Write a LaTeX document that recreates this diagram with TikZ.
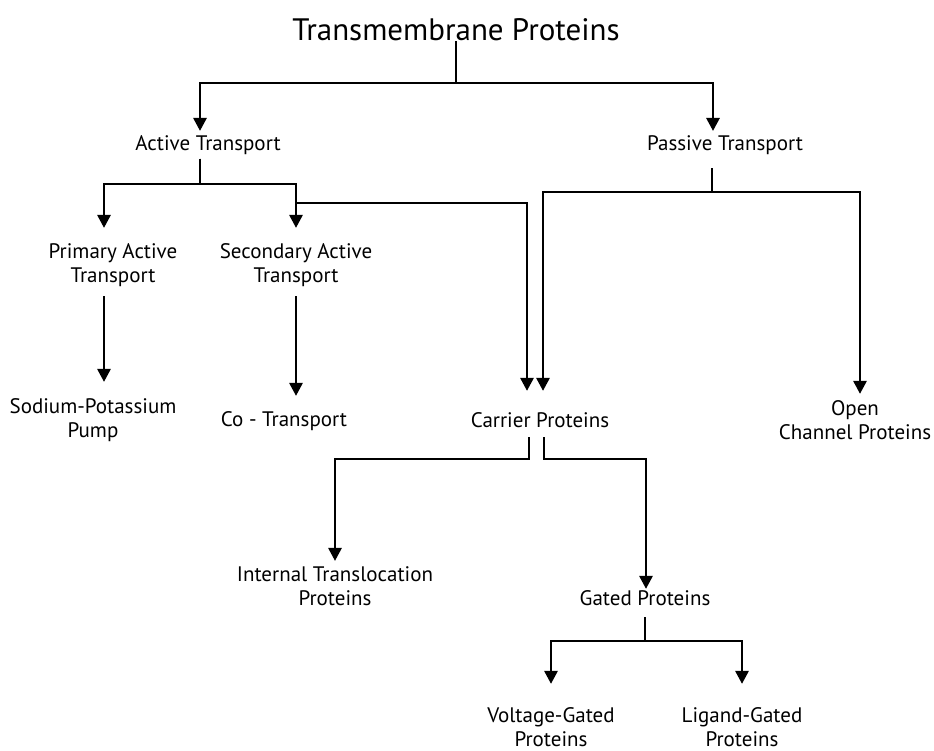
\documentclass[tikz,border=0pt]{standalone}
\usepackage{fontspec}
\setmainfont{PT Sans}
\usetikzlibrary{arrows.meta}

\tikzset{every picture/.style={line width=2.8pt}}

\begin{document}
\begin{tikzpicture}[x=1pt,y=1pt,yscale=-1,xscale=1,
  lbl/.style={inner sep=0pt, outer sep=0pt, align=center, font=\fontsize{21}{24}\selectfont},
  link/.style={-{Triangle[length=13pt,width=13pt]}, shorten <=#1},
  link/.default=0pt]
\fill[white] (0,0) rectangle (934,751);
\useasboundingbox (0,0) rectangle (934,751);

% Text Node
\node[lbl, font=\fontsize{31}{34}\selectfont] (root) at (456,30) {Transmembrane Proteins};
% Text Node
\node[lbl] (act) at (208,145) {Active Transport};
% Text Node
\node[lbl] (pas) at (725,145) {Passive Transport};
% Text Node
\node[lbl] (prim) at (113,265) {Primary Active\\Transport};
% Text Node
\node[lbl] (sec) at (296,265) {Secondary Active\\Transport};
% Text Node
\node[lbl] (sod) at (93,420) {Sodium-Potassium\\Pump};
% Text Node
\node[lbl] (co) at (284,421) {Co - Transport};
% Text Node
\node[lbl] (car) at (540,420) {Carrier Proteins};
% Text Node
\node[lbl] (open) at (855,420) {Open\\Channel Proteins};
% Text Node
\node[lbl] (int) at (335,586) {Internal Translocation\\Proteins};
% Text Node
\node[lbl] (gat) at (645,598) {Gated Proteins};
% Text Node
\node[lbl] (volt) at (551,727) {Voltage-Gated\\Proteins};
% Text Node
\node[lbl] (lig) at (742,727) {Ligand-Gated\\Proteins};

\coordinate (split) at (296,203);

%Straight Lines
\draw[link, shorten >=4.5pt] (root.south) -- (root.south |- 0,83) -| ([xshift=-8pt]act.north);
\draw[link, shorten >=4.5pt] (root.south) -- (root.south |- 0,83) -| ([xshift=-12pt]pas.north);

%Straight Lines
\draw[link=4pt, shorten >=15.5pt] ([xshift=-8pt]act.south) -- ([xshift=-8pt]act.south |- 0,184) -| ([xshift=-9pt]prim.north);
\draw[link=4pt, shorten >=15.5pt] ([xshift=-8pt]act.south) -- ([xshift=-8pt]act.south |- 0,184) -| (sec.north);
\draw[link, shorten >=21.5pt] (split) -| ([xshift=-13pt]car.north);

%Straight Lines
\draw[link=9.5pt, shorten >=16.5pt] ([xshift=-9pt]prim.south) -- ([xshift=11pt]sod.north);
\draw[link=9.5pt, shorten >=15.5pt] (sec.south) -- ([xshift=12pt]co.north);

%Straight Lines
\draw[link=13.5pt, shorten >=21.5pt] ([xshift=-13pt]pas.south) -- ([xshift=-13pt]pas.south |- 0,192) -| ([xshift=3pt]car.north);
\draw[link=13.5pt, shorten >=6.5pt] ([xshift=-13pt]pas.south) -- ([xshift=-13pt]pas.south |- 0,192) -| ([xshift=5pt]open.north);

%Straight Lines
\draw[link=9.5pt, shorten >=5.5pt] ([xshift=-11pt]car.south) -- ([xshift=-11pt]car.south |- 0,459) -| (int.north);
\draw[link=9.5pt, shorten >=1.5pt] ([xshift=4pt]car.south) -- ([xshift=4pt]car.south |- 0,459) -| ([xshift=1pt]gat.north);

%Straight Lines
\draw[link=11.5pt, shorten >=23.5pt] (gat.south) -- (gat.south |- 0,641) -| (volt.north);
\draw[link=11.5pt, shorten >=23.5pt] (gat.south) -- (gat.south |- 0,641) -| (lig.north);

\end{tikzpicture}
\end{document}
